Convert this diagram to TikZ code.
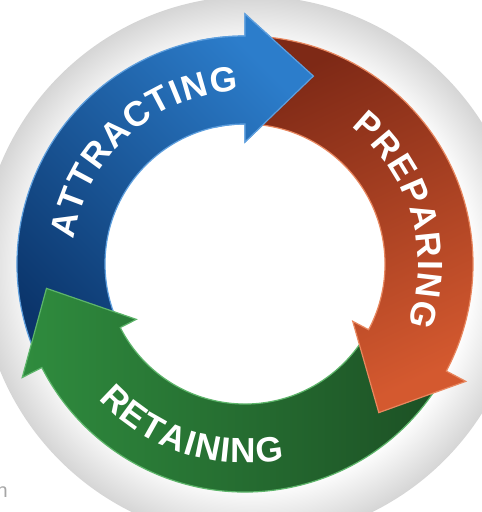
\documentclass[tikz,border=0pt]{standalone}
\usepackage{fontspec}
\usetikzlibrary{decorations.text}
\newfontfamily\arcfont{Liberation Sans}
\newcommand{\labelfont}{\arcfont\bfseries\fontsize{35}{35}\selectfont}
\definecolor{bluelight}{HTML}{2C7DCB}
\definecolor{bluedark}{HTML}{0B356B}
\definecolor{blueedge}{HTML}{5E9FDE}
\definecolor{orangedark}{HTML}{7E2916}
\definecolor{orangelight}{HTML}{D4592F}
\definecolor{orangeedge}{HTML}{E8875F}
\definecolor{greenlight}{HTML}{2F8C3E}
\definecolor{greendark}{HTML}{1C4F24}
\definecolor{greenedge}{HTML}{5DB56A}
\pgfdeclareradialshading{ringhalo}{\pgfpoint{0bp}{0bp}}{color(0bp)=(white); color(20bp)=(white); color(25.5bp)=(gray!36); color(41bp)=(gray!36); color(43bp)=(gray!16); color(46bp)=(gray!6); color(49.6bp)=(gray!4); color(50bp)=(white)}
% tail angle, head base angle, tip angle, looks
\newcommand{\cyclearrow}[4]{%
  \path[#4] (#1:228) arc[start angle=#1, end angle=#2, radius=228] -- (#2:250) -- (#3:200)
    -- (#2:122) -- (#2:140) arc[start angle=#2, end angle=#1, radius=140] -- cycle;}

\begin{document}
\begin{tikzpicture}[x=1pt, y=1pt, font=\labelfont,
    bluearrow/.style={left color=bluedark, right color=bluelight, shading angle=135, draw=blueedge, line width=1.2},
    orangearrow/.style={top color=orangedark, bottom color=orangelight, shading angle=25, draw=orangeedge, line width=1.2},
    greenarrow/.style={left color=greenlight, right color=greendark, draw=greenedge, line width=1.2},
    arclabel/.style={decorate, decoration={text effects along path, text={#1}, text align=center,
      text effects/.cd, text along path, character widths={inner xsep=0.7pt, font=\labelfont},
      characters={text=white, font=\labelfont, inner xsep=0pt}}}]
  \useasboundingbox (0,0) rectangle (482,512);
  \fill[white] (0,0) rectangle (482,512);
  \coordinate (C) at (245,248);

  \shade[shading=ringhalo] (252,244) circle[radius=272];

  \begin{scope}[shift={(C)}]
    \cyclearrow{207}{90}{70}{bluearrow}
    \cyclearrow{-28}{-153}{-173}{greenarrow}
    \cyclearrow{90}{-28}{-48}{orangearrow}
    \begin{scope}
      \clip (0,0) -- (102:320) -- (58:320) -- cycle;
      \cyclearrow{207}{90}{70}{bluearrow}
    \end{scope}

    \path[arclabel=ATTRACTING] (182:173) arc[start angle=182, end angle=82, radius=173];
    \path[arclabel=PREPARING] (66:173) arc[start angle=66, end angle=-34, radius=173];
    \path[arclabel=RETAINING] (202:199) arc[start angle=202, end angle=302, radius=199];
  \end{scope}

  \node[text=gray!70, font=\arcfont\fontsize{20}{20}\selectfont, anchor=base east, inner sep=0pt] (cut) at (8,15) {n};
\end{tikzpicture}
\end{document}
